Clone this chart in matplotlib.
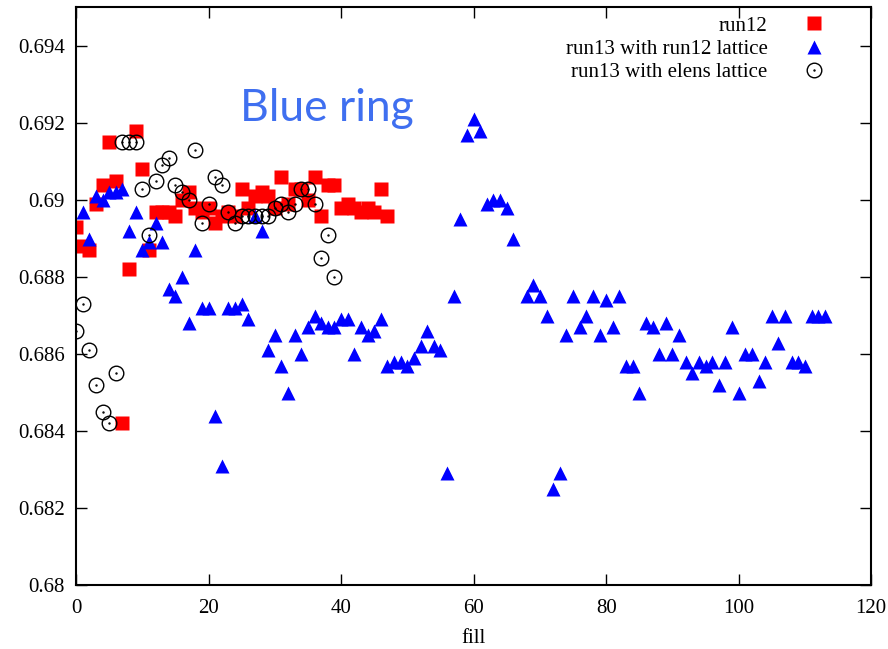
import numpy as np
import matplotlib
matplotlib.use('Agg')
import matplotlib.pyplot as plt
from matplotlib.path import Path
from matplotlib.ticker import FuncFormatter

# tune per fill, blue ring
run12_fill = np.arange(0, 48)
run12_tune = [0.6893, 0.6888, 0.6887, 0.6899, 0.6904, 0.6915, 0.6905, 0.6842,
              0.6882, 0.6918, 0.6908, 0.6887, 0.6897, 0.6897, 0.6897, 0.6896,
              0.6900, 0.6902, 0.6898, 0.6897, 0.6898, 0.6894, 0.6896, 0.6897,
              0.6896, 0.6903, 0.6898, 0.6901, 0.6902, 0.6901, 0.6898, 0.6906,
              0.6899, 0.6903, 0.6903, 0.6900, 0.6906, 0.6896, 0.6904, 0.6904,
              0.6898, 0.6899, 0.6898, 0.6897, 0.6898, 0.6897, 0.6903, 0.6896]

run13_fill = list(range(1, 67)) + list(range(68, 114))
run13_tune = [0.6897, 0.6890, 0.6901, 0.6900, 0.6902, 0.6902, 0.6903, 0.6892,
              0.6897, 0.6887, 0.6889, 0.6894, 0.6889, 0.6877, 0.6875, 0.6880,
              0.6868, 0.6887, 0.6872, 0.6872, 0.6844, 0.6831, 0.6872, 0.6872,
              0.6873, 0.6869, 0.6896, 0.6892, 0.6861, 0.6865, 0.6857, 0.6850,
              0.6865, 0.6860, 0.6867, 0.6870, 0.6868, 0.6867, 0.6867, 0.6869,
              0.6869, 0.6860, 0.6867, 0.6865, 0.6866, 0.6869, 0.6857, 0.6858,
              0.6858, 0.6857, 0.6859, 0.6862, 0.6866, 0.6862, 0.6861, 0.6829,
              0.6875, 0.6895, 0.6917, 0.6921, 0.6918, 0.6899, 0.6900, 0.6900,
              0.6898, 0.6890,
              0.6875, 0.6878, 0.6875, 0.6870, 0.6825, 0.6829, 0.6865, 0.6875,
              0.6867, 0.6870, 0.6875, 0.6865, 0.6874, 0.6867, 0.6875, 0.6857,
              0.6857, 0.6850, 0.6868, 0.6867, 0.6860, 0.6868, 0.6860, 0.6865,
              0.6858, 0.6855, 0.6858, 0.6857, 0.6858, 0.6852, 0.6858, 0.6867,
              0.6850, 0.6860, 0.6860, 0.6853, 0.6858, 0.6870, 0.6863, 0.6870,
              0.6858, 0.6858, 0.6857, 0.6870, 0.6870, 0.6870]

elens_fill = np.arange(0, 40)
elens_tune = [0.6866, 0.6873, 0.6861, 0.6852, 0.6845, 0.6842, 0.6855, 0.6915,
              0.6915, 0.6915, 0.6903, 0.6891, 0.6905, 0.6909, 0.6911, 0.6904,
              0.6902, 0.6900, 0.6913, 0.6894, 0.6899, 0.6906, 0.6904, 0.6897,
              0.6894, 0.6896, 0.6896, 0.6896, 0.6896, 0.6896, 0.6898, 0.6899,
              0.6897, 0.6899, 0.6903, 0.6903, 0.6899, 0.6885, 0.6891, 0.6880]

x_ticks = [0, 20, 40, 60, 80, 100, 120]
y_ticks = np.round(np.arange(0.680, 0.6941, 0.002), 3)

plt.rcParams['font.family'] = ['Liberation Serif', 'DejaVu Serif']
plt.rcParams['font.size'] = 15

# gnuplot style circle with a dot in the middle
dot_circle = Path.make_compound_path(Path.unit_circle(),
                                     Path.circle((0, 0), 0.07))

fig = plt.figure(figsize=(8.88, 6.49), dpi=100)
ax = fig.add_axes([0.0856, 0.0986, 0.8955, 0.8902])

ax.plot(run12_fill, run12_tune, 's', color='#ff0000', ms=9.5, mec='none',
        label='run12')
ax.plot(run13_fill, run13_tune, '^', color='#0000ff', ms=9.5, mec='none',
        label='run13 with run12 lattice')
ax.plot(elens_fill, elens_tune, marker=dot_circle, ls='none', ms=10.5,
        mfc='none', mec='black', mew=1.0, label='run13 with elens lattice')

ax.set_xlim(0, 120)
ax.set_ylim(0.68, 0.69501)
ax.set_xticks(x_ticks)
ax.set_yticks(y_ticks)
ax.yaxis.set_major_formatter(FuncFormatter(lambda v, p: f'{v:g}'))
ax.tick_params(direction='in', length=8, width=1, top=True, right=True,
               labelsize=15, pad=8)
ax.tick_params(axis='x', pad=10)
for s in ax.spines.values():
    s.set_linewidth(1.5)
ax.set_xlabel('fill', labelpad=8)

ax.legend(loc='upper right', bbox_to_anchor=(828 / 888, 1 - 16 / 649),
          bbox_transform=fig.transFigure, frameon=False, markerfirst=False,
          handlelength=1.3, handletextpad=1.6, labelspacing=0.18,
          borderpad=0, borderaxespad=0)

ax.text(0.206, 0.803, 'Blue ring', transform=ax.transAxes, color='#3f6ff0',
        fontsize=32, family=['Lato', 'DejaVu Sans'], va='baseline')

fig.savefig('out.png', dpi=100)
